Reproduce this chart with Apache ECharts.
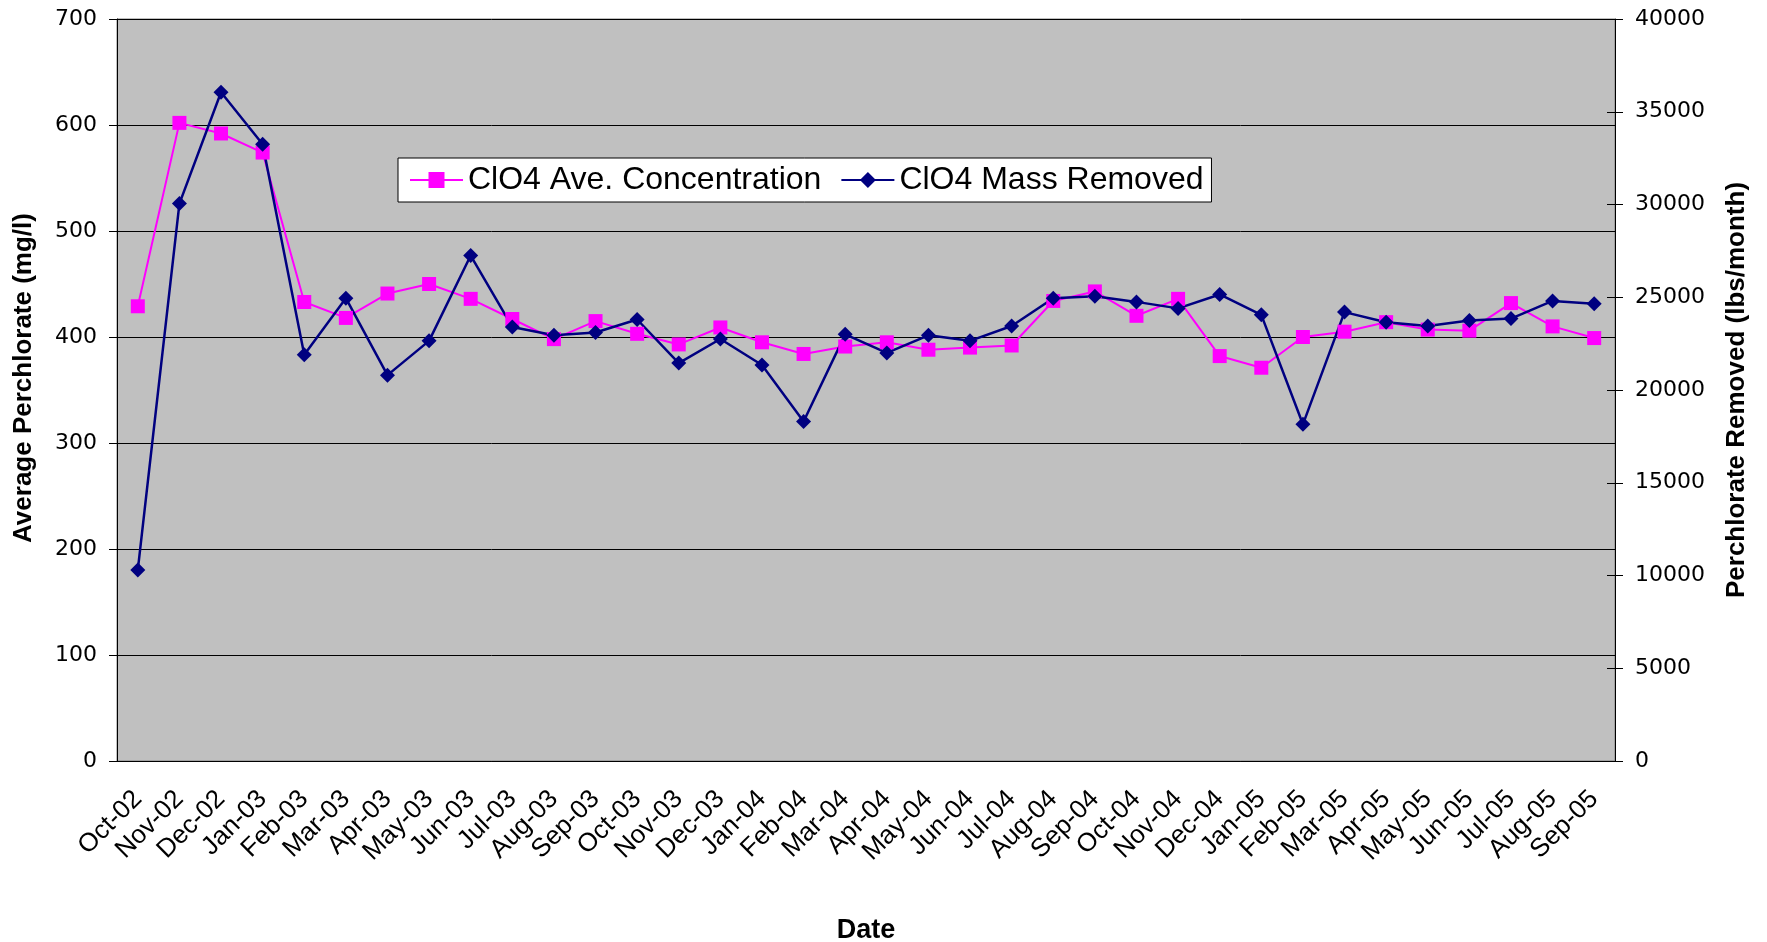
<!DOCTYPE html>
<html>
<head>
<meta charset="utf-8">
<title>Perchlorate</title>
<script src="https://cdn.jsdelivr.net/npm/echarts/dist/echarts.min.js"></script>
<style>
  html, body { margin: 0; padding: 0; background: #fff; }
  #chart { width: 1767px; height: 942px; }
</style>
</head>
<body>
<div id="chart"></div>
<script>
// months
const dates = ['Oct-02','Nov-02','Dec-02','Jan-03','Feb-03','Mar-03','Apr-03','May-03','Jun-03',
  'Jul-03','Aug-03','Sep-03','Oct-03','Nov-03','Dec-03','Jan-04','Feb-04','Mar-04','Apr-04',
  'May-04','Jun-04','Jul-04','Aug-04','Sep-04','Oct-04','Nov-04','Dec-04','Jan-05','Feb-05',
  'Mar-05','Apr-05','May-05','Jun-05','Jul-05','Aug-05','Sep-05'];

// ClO4 Ave. Concentration (mg/l) - left axis
const concentration = [429, 602, 592, 574, 433, 418, 441, 450, 436,
  417, 398, 415, 403, 393, 409, 395, 384, 391, 395,
  388, 390, 392, 434, 443, 420, 436, 382, 371, 400,
  405, 414, 407, 406, 432, 410, 399];

// ClO4 Mass Removed (lbs/month) - right axis
const massRemoved = [10300, 30050, 36050, 33250, 21900, 24950, 20800, 22650, 27250,
  23400, 22950, 23100, 23800, 21450, 22750, 21350, 18300, 23000, 22000,
  22950, 22650, 23450, 24950, 25050, 24750, 24400, 25150, 24050, 18150,
  24200, 23650, 23450, 23750, 23850, 24800, 24650];

const chart = echarts.init(document.getElementById('chart'));

const tickFont = { color: '#000', fontFamily: 'DejaVu Sans', fontSize: 22 };
const titleFont = { color: '#000', fontFamily: 'Liberation Sans', fontSize: 26, fontWeight: 'bold' };

const option = {
  animation: false,
  backgroundColor: '#fff',
  grid: {
    left: 117, right: 152, top: 19, bottom: 181,
    outerBoundsMode: 'none',
    show: true,
    backgroundColor: '#C0C0C0',
    borderColor: '#808080',
    borderWidth: 1
  },
  legend: {
    data: ['ClO4 Ave. Concentration', 'ClO4 Mass Removed'],
    left: 398,
    top: 158,
    padding: [6, 8, 6, 11],
    itemGap: 19,
    itemWidth: 53,
    itemHeight: 20,
    backgroundColor: '#fff',
    borderColor: '#000',
    borderWidth: 1,
    textStyle: { color: '#000', fontFamily: 'Liberation Sans', fontSize: 32 }
  },
  xAxis: [
    {
      type: 'category',
      data: dates,
      boundaryGap: true,
      name: 'Date',
      nameLocation: 'middle',
      nameGap: 156,
      nameTextStyle: Object.assign({}, titleFont, { fontSize: 27 }),
      axisLine: { lineStyle: { color: '#000', width: 1 } },
      axisTick: { length: 8, lineStyle: { color: '#000' } },
      axisLabel: {
        interval: 0,
        rotate: 45,
        margin: 34,
        color: '#000',
        fontFamily: 'Liberation Sans',
        fontSize: 26
      },
      splitLine: { show: false }
    },
    {
      // inner half of the crossing ticks
      type: 'category',
      data: dates,
      position: 'bottom',
      axisLine: { show: false },
      axisTick: { inside: true, length: 8, lineStyle: { color: '#000' } },
      axisLabel: { show: false },
      splitLine: { show: false }
    }
  ],
  yAxis: [
    {
      type: 'value',
      min: 0,
      max: 700,
      interval: 100,
      name: 'Average Perchlorate (mg/l)',
      nameLocation: 'middle',
      nameGap: 80,
      nameTextStyle: Object.assign({}, titleFont, { padding: [0, 0, 0, 24] }),
      axisLine: { show: true, lineStyle: { color: '#000', width: 1 } },
      axisTick: { show: true, length: 8, lineStyle: { color: '#000' } },
      axisLabel: Object.assign({ margin: 20 }, tickFont),
      splitLine: { show: true, lineStyle: { color: '#000', width: 1 } }
    },
    {
      type: 'value',
      min: 0,
      max: 40000,
      interval: 5000,
      position: 'right',
      name: 'Perchlorate Removed (lbs/month)',
      nameLocation: 'middle',
      nameGap: 109,
      nameTextStyle: titleFont,
      axisLine: { show: true, lineStyle: { color: '#000', width: 1 } },
      axisTick: { show: true, length: 8, lineStyle: { color: '#000' } },
      axisLabel: Object.assign({ margin: 20, formatter: v => String(v) }, tickFont),
      splitLine: { show: false }
    },
    {
      // inner half of the right axis ticks
      type: 'value',
      min: 0,
      max: 40000,
      interval: 5000,
      position: 'right',
      axisLine: { show: false },
      axisTick: { show: true, inside: true, length: 8, lineStyle: { color: '#000' } },
      axisLabel: { show: false },
      splitLine: { show: false }
    }
  ],
  series: [
    {
      name: 'ClO4 Ave. Concentration',
      type: 'line',
      yAxisIndex: 0,
      data: concentration,
      symbol: 'rect',
      symbolSize: 14,
      lineStyle: { color: '#FF00FF', width: 2 },
      itemStyle: { color: '#FF00FF' }
    },
    {
      name: 'ClO4 Mass Removed',
      type: 'line',
      yAxisIndex: 1,
      data: massRemoved,
      symbol: 'diamond',
      symbolSize: 15,
      lineStyle: { color: '#000080', width: 2.5 },
      itemStyle: { color: '#000080' }
    }
  ]
};

chart.setOption(option);
</script>
</body>
</html>
